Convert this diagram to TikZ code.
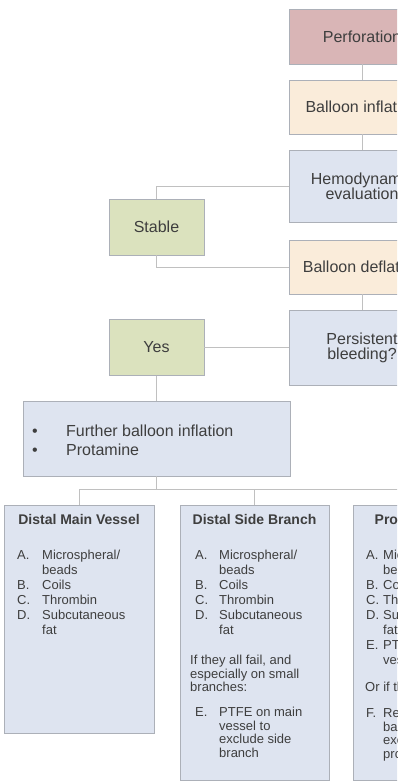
\documentclass[tikz,border=0pt]{standalone}
\usepackage{fontspec}
\setmainfont{Liberation Sans}
\definecolor{pinkbox}{RGB}{217,181,182}
\definecolor{peachbox}{RGB}{250,236,218}
\definecolor{bluebox}{RGB}{222,228,240}
\definecolor{greenbox}{RGB}{219,226,190}
\definecolor{edge}{RGB}{172,176,184}
\definecolor{wire}{RGB}{192,192,192}
\definecolor{ink}{RGB}{62,62,62}
\begin{document}
\begin{tikzpicture}[x=1pt,y=-1pt,
  box/.style={draw=edge, line width=0.7pt, inner sep=0pt, text=ink, align=center,
              font=\fontsize{16}{15}\selectfont},
  flowbox/.style={box, minimum width=146pt},
  sidebox/.style={box, fill=greenbox, minimum width=95pt, minimum height=56pt},
  colbox/.style={draw=edge, line width=0.7pt, fill=bluebox, inner sep=0pt, minimum width=150pt},
  wire/.style={draw=wire, line width=0.8pt},
  head/.style={anchor=base, inner sep=0pt, text=ink, font=\fontsize{14}{16}\selectfont\bfseries},
  listtxt/.style={anchor=base west, inner sep=0pt, text=ink, align=left, font=\fontsize{13}{15}\selectfont},
  tighttxt/.style={listtxt, font=\fontsize{13}{13.5}\selectfont}
]
\useasboundingbox (0,0) rectangle (397,783);
\clip (0,0) rectangle (397,783);
\fill[white] (0,0) rectangle (397,783);

% main flow
\node[flowbox, fill=pinkbox, minimum height=55pt] (perf) at (362,36.5) {Perforation};
\node[flowbox, fill=peachbox, minimum height=54pt] (infl) at (362,107) {Balloon inflation};
\node[flowbox, fill=bluebox, minimum height=72pt] (hemo) at (362,186) {Hemodynamic\\evaluation};
\node[flowbox, fill=peachbox, minimum height=54pt] (defl) at (362,267) {Balloon deflation};
\node[flowbox, fill=bluebox, minimum height=75pt] (pers) at (362,347.5) {Persistent\\bleeding?};

\node[sidebox] (stable) at (156.5,227) {Stable};
\node[sidebox] (yes) at (156.5,347.5) {Yes};

\node[box, fill=bluebox, minimum width=267pt, minimum height=75pt] (further) at (156.5,438.5) {};
\node[anchor=base west, inner sep=0pt, text=ink, font=\fontsize{16}{19}\selectfont] (furthertxt) at (32,436)
  {\begin{tabular}[t]{@{}p{34pt}@{}l@{}}\textbullet & Further balloon inflation\\ \textbullet & Protamine\end{tabular}};

% columns
\node[colbox, minimum height=228pt] (c1) at (79,619) {};
\node[colbox, minimum width=149pt, minimum height=275pt] (c2) at (254.5,642.5) {};
\node[colbox, minimum height=275pt] (c3) at (428,642.5) {};

\node[head] (h1) at (79,524) {Distal Main Vessel};
\node[head] (h2) at (254.5,524) {Distal Side Branch};
\node[head] (h3) at (428,524) {Proximal Vessel};

\node[listtxt] (l1) at (17,559.5) {\begin{tabular}[t]{@{}p{25pt}@{}l@{}}
A. & Microspheral/\\ & beads\\ B. & Coils\\ C. & Thrombin\\ D. & Subcutaneous\\ & fat\end{tabular}};

\node[listtxt] (l2a) at (195,559.5) {\begin{tabular}[t]{@{}p{24pt}@{}l@{}}
A. & Microspheral/\\ & beads\\ B. & Coils\\ C. & Thrombin\\ D. & Subcutaneous\\ & fat\end{tabular}};
\node[tighttxt] (l2b) at (190,664.5) {\begin{tabular}[t]{@{}l@{}}If they all fail, and\\ especially on small\\ branches:\end{tabular}};
\node[tighttxt] (l2c) at (195,716.5) {\begin{tabular}[t]{@{}p{24pt}@{}l@{}}
E. & PTFE on main\\ & vessel to\\ & exclude side\\ & branch\end{tabular}};

\node[listtxt] (l3a) at (366,559.5) {\begin{tabular}[t]{@{}p{17pt}@{}l@{}}
A. & Microspheral/\\ & beads\\ B. & Coils\\ C. & Thrombin\\ D. & Subcutaneous\\ & fat\\ E. & PTFE on main\\ & vessel\end{tabular}};
\node[listtxt] (l3b) at (365,691.5) {Or if they fail:};
\node[tighttxt] (l3c) at (366,717.5) {\begin{tabular}[t]{@{}p{17pt}@{}l@{}}
F. & Reverse\\ & balloon\\ & exclusion\\ & proximal\end{tabular}};

% connectors
\draw[wire] (perf) -- (infl);
\draw[wire] (infl) -- (hemo);
\draw[wire] (hemo.west) -| (stable.north);
\draw[wire] (stable.south) |- (defl.west);
\draw[wire] (defl) -- (pers);
\draw[wire] (pers.west) -- (yes.east);
\draw[wire] (yes.south) -- (further.north);
\coordinate (bus) at (156.5,489);
\draw[wire] (further.south) -- (bus);
\draw[wire] (c1.north) -- (c1.north |- bus) -- (c3.north |- bus) -- (c3.north);
\draw[wire] (c2.north) -- (c2.north |- bus);
\end{tikzpicture}
\end{document}
